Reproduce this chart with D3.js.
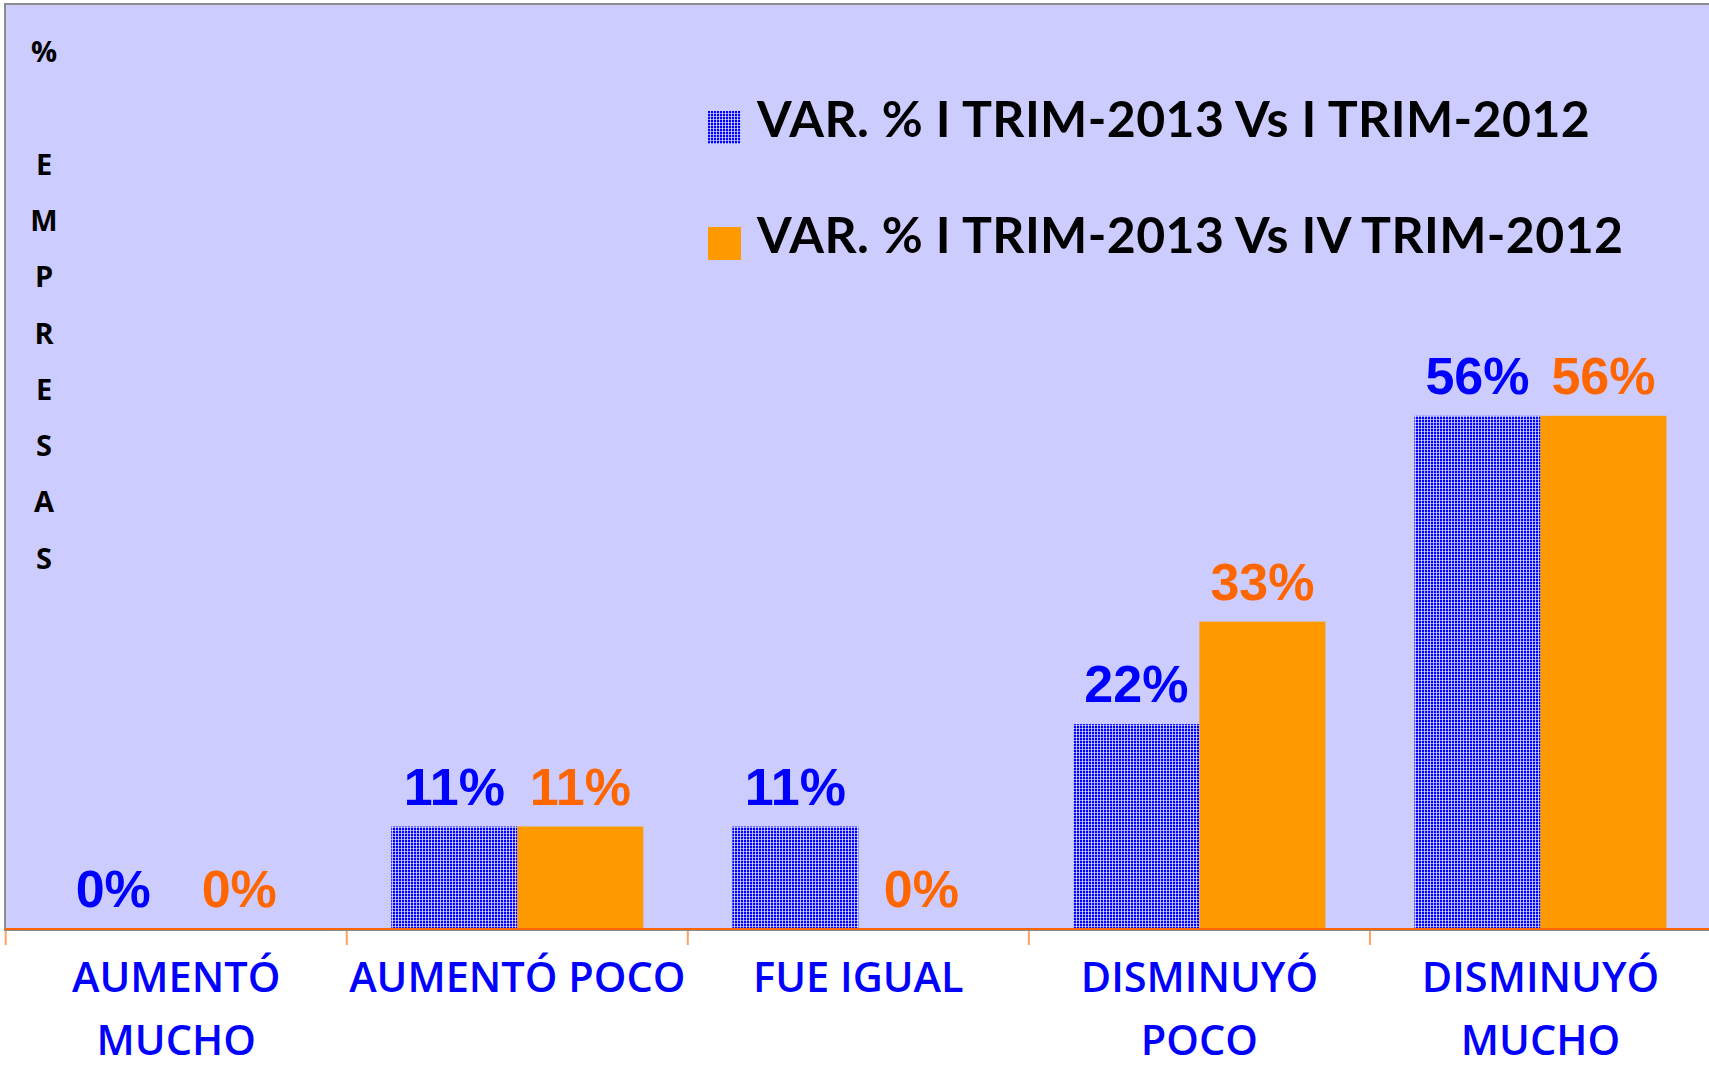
<!DOCTYPE html>
<html>
<head>
<meta charset="utf-8">
<script src="https://cdn.jsdelivr.net/npm/d3@7"></script>
<style>
  html, body { margin: 0; padding: 0; background: #ffffff; }
  svg { display: block; }
</style>
</head>
<body>
<div id="chart"></div>
<script>
// data (9 firms, so steps of 1/9)
const categories = ["AUMENTÓ MUCHO", "AUMENTÓ POCO", "FUE IGUAL", "DISMINUYÓ POCO", "DISMINUYÓ MUCHO"];
const categoryLines = [["AUMENTÓ", "MUCHO"], ["AUMENTÓ POCO"], ["FUE IGUAL"], ["DISMINUYÓ", "POCO"], ["DISMINUYÓ", "MUCHO"]];
const seriesNames = ["VAR. % I TRIM-2013 Vs I TRIM-2012", "VAR. % I TRIM-2013 Vs IV TRIM-2012"];
const vsLastYear = [0, 11.1, 11.1, 22.2, 55.6];
const vsLastQuarter = [0, 11.1, 0, 33.3, 55.6];
const yTitle = ["%", "", "E", "M", "P", "R", "E", "S", "A", "S"];

const width = 1709;
const height = 1066;
const plot = {left: 5, top: 4, right: 1711, bottom: 930};

const svg = d3.select("#chart").append("svg")
    .attr("width", width)
    .attr("height", height);

const defs = svg.append("defs");
const pat = defs.append("pattern")
    .attr("id", "grid")
    .attr("patternUnits", "userSpaceOnUse")
    .attr("width", 3)
    .attr("height", 3);
pat.append("rect").attr("width", 3).attr("height", 3).attr("fill", "#0000ff");
pat.append("rect").attr("x", 2).attr("width", 1).attr("height", 3).attr("fill", "#ffffff").attr("opacity", 0.7);
pat.append("rect").attr("y", 2).attr("width", 3).attr("height", 1).attr("fill", "#ffffff").attr("opacity", 0.55);

// plot area
svg.append("rect")
    .attr("x", plot.left)
    .attr("y", plot.top)
    .attr("width", plot.right - plot.left)
    .attr("height", plot.bottom - plot.top)
    .attr("fill", "#ccccff")
    .attr("stroke", "#8c8c8c")
    .attr("stroke-width", 2);

const x = d3.scaleBand()
    .domain(categories)
    .range([5.7, 1711])
    .paddingInner(0)
    .paddingOuter(0);

const xInner = d3.scaleBand()
    .domain([0, 1])
    .range([0, x.bandwidth()])
    .paddingInner(0)
    .paddingOuter(0.353);

const y = d3.scaleLinear()
    .domain([0, 100])
    .range([929, 6]);

const series = [
    {values: vsLastYear, fill: "url(#grid)", label: "#0000ff"},
    {values: vsLastQuarter, fill: "#ff9900", label: "#ff6600"}
];

series.forEach((s, i) => {
    const g = svg.append("g");
    g.selectAll("rect")
        .data(s.values)
        .enter()
        .append("rect")
        .attr("x", (d, j) => x(categories[j]) + xInner(i))
        .attr("y", d => y(d))
        .attr("width", xInner.bandwidth())
        .attr("height", d => y(0) - y(d))
        .attr("fill", s.fill);

    g.selectAll("text")
        .data(s.values)
        .enter()
        .append("text")
        .attr("x", (d, j) => x(categories[j]) + xInner(i) + xInner.bandwidth() / 2)
        .attr("y", d => y(d) - 22)
        .attr("text-anchor", "middle")
        .attr("font-family", "'Liberation Sans', Arial, sans-serif")
        .attr("font-weight", "bold")
        .attr("font-size", 52)
        .attr("fill", s.label)
        .text(d => Math.round(d) + "%");
});

// x axis line and ticks
svg.append("line")
    .attr("x1", plot.left).attr("x2", plot.right)
    .attr("y1", 929).attr("y2", 929)
    .attr("stroke", "#ff6600")
    .attr("stroke-width", 2);

const tickXs = categories.map(c => x(c)).concat([x.range()[1]]);
svg.append("g").selectAll("line")
    .data(tickXs)
    .enter()
    .append("line")
    .attr("x1", d => d).attr("x2", d => d)
    .attr("y1", 931).attr("y2", 945)
    .attr("stroke", "#ffa060")
    .attr("stroke-width", 2);

// category labels
const cat = svg.append("g").selectAll("text")
    .data(categories)
    .enter()
    .append("text")
    .attr("text-anchor", "middle")
    .attr("font-family", "'Open Sans', sans-serif")
    .attr("font-weight", 600)
    .attr("font-size", 41.5)
    .attr("fill", "#0000ff");
cat.each(function(d, j) {
    d3.select(this).selectAll("tspan")
        .data(categoryLines[j])
        .enter()
        .append("tspan")
        .attr("x", x(d) + x.bandwidth() / 2)
        .attr("y", (t, k) => 992 + k * 63)
        .text(t => t);
});

// y title, one letter per line
svg.append("g").selectAll("text")
    .data(yTitle)
    .enter()
    .append("text")
    .attr("x", 44)
    .attr("y", (d, k) => 62 + k * 56.3)
    .attr("text-anchor", "middle")
    .attr("font-family", "'Open Sans', sans-serif")
    .attr("font-weight", "bold")
    .attr("font-size", 29)
    .attr("fill", "#000000")
    .text(d => d);

// legend
const legend = svg.append("g");
const legendRows = [
    {name: seriesNames[0], fill: "url(#grid)", ys: 111, yt: 137},
    {name: seriesNames[1], fill: "#ff9900", ys: 227, yt: 253}
];
legendRows.forEach(r => {
    legend.append("rect")
        .attr("x", 708).attr("y", r.ys)
        .attr("width", 33).attr("height", 33)
        .attr("fill", r.fill);
    legend.append("text")
        .attr("x", 757).attr("y", r.yt)
        .attr("font-family", "Lato, sans-serif")
        .attr("font-weight", "bold")
        .attr("font-size", 50)
        .attr("letter-spacing", 0.4)
        .attr("fill", "#000000")
        .text(r.name);
});
</script>
</body>
</html>
